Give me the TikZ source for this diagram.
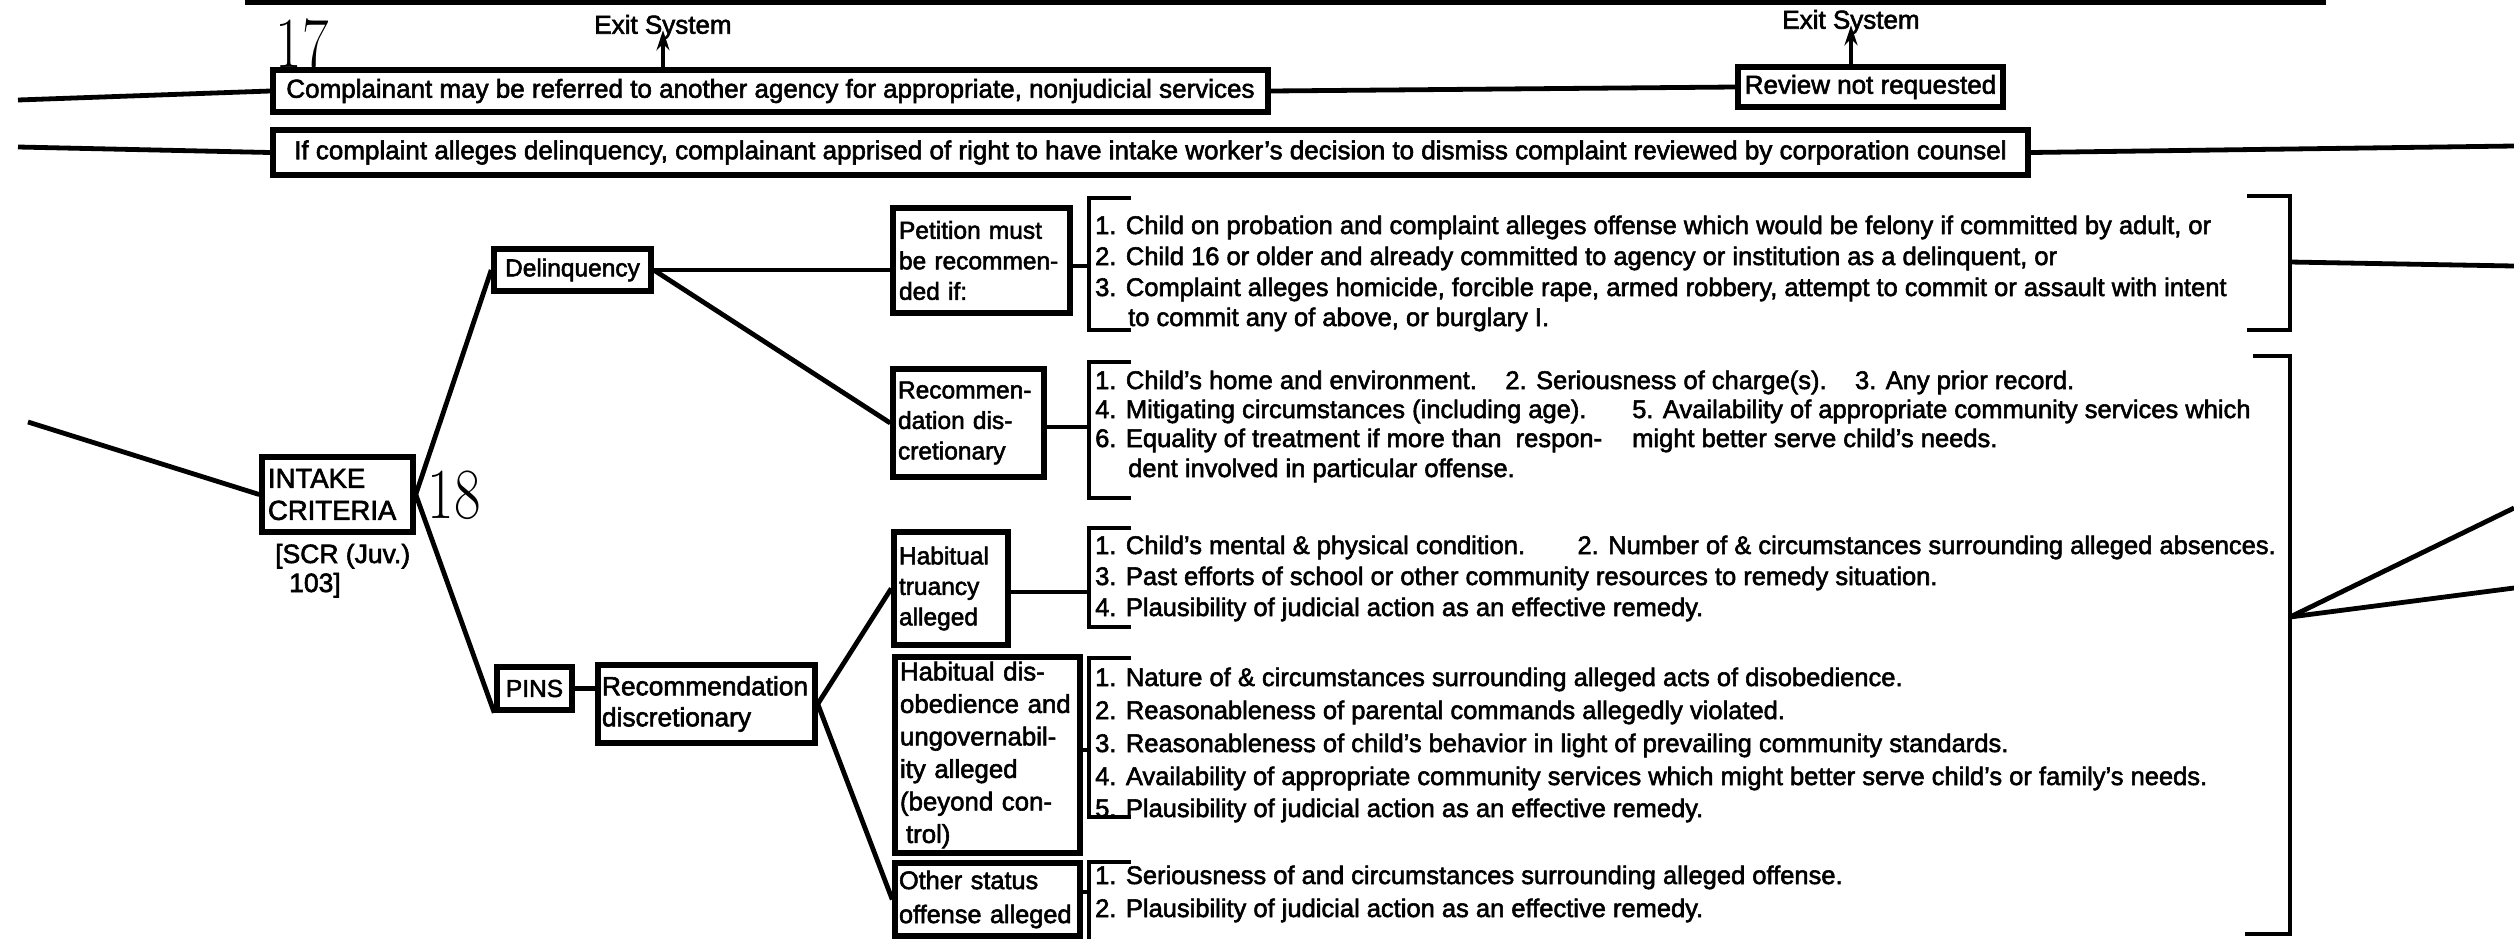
\documentclass[tikz,border=0pt]{standalone}
\usepackage{fontspec}
\setsansfont{Liberation Sans}[FakeBold=2.2]
\usetikzlibrary{arrows.meta,calc}

\newcommand{\topfont}{\sffamily\fontsize{26}{31}\selectfont}
\newcommand{\boxfont}{\sffamily\fontsize{24.5}{30.5}\selectfont}
\newcommand{\listfont}{\sffamily\fontsize{25.5}{30}\selectfont}
\newcommand{\numfont}{\rmfamily\fontsize{72}{72}\selectfont}

\begin{document}
\begin{tikzpicture}[x=1pt,y=-1pt,
  crit/.style={draw, line width=5.5pt, inner sep=0pt, font=\boxfont, align=left},
  toprow/.style={crit, font=\topfont},
  wire/.style={line width=4.8pt},
  brk/.style={line width=4.8pt},
  item/.style={anchor=base west, inner sep=0pt, font=\listfont},
  exitlbl/.style={inner sep=0pt, font=\topfont},
  tag/.style={inner sep=0pt, font=\numfont},
  up/.style={line width=4.5pt, -{Stealth[length=20pt,width=13pt]}}
]
\useasboundingbox (0,0) rectangle (2514,938);

% rule across the top of the page
\draw[line width=6pt] (245,2) -- (2326,2);

% section numbers
\node[tag] (n17) at (302,44) {\scalebox{0.8}[1]{17}};
\node[tag] (n18) at (454,495) {\scalebox{0.8}[1]{18}};

% ---- upper rows: referral and review ----
\node[toprow, minimum width=995pt, minimum height=42pt] (A) at (770.5,91)
  {Complainant may be referred to another agency for appropriate, nonjudicial services};
\node[toprow, minimum width=265pt, minimum height=40pt] (R) at (1870.5,87) {Review not requested};
\node[toprow, minimum width=1755pt, minimum height=45pt] (B) at (1150.5,152.5)
  {If complaint alleges delinquency, complainant apprised of right to have intake worker’s decision to dismiss complaint reviewed by corporation counsel};

\node[exitlbl] (ex1) at (663,27) {Exit System};
\node[exitlbl] (ex2) at (1851,22) {Exit System};

\coordinate (inA) at (18,100);
\coordinate (inB) at (18,147);
\coordinate (outB) at (2514,146);

\draw[wire] (inA) -- (A.west);
\draw[wire] (A.east) -- (R.west);
\draw[wire] (inB) -- (B.west);
\draw[wire] (B.east) -- (outB);
\draw[up] (A.north -| ex1) -- ([yshift=9pt]ex1.south);
\draw[up] (R.north -| ex2) -- ([yshift=9pt]ex2.south);

% ---- intake criteria ----
\node[crit, minimum width=151pt, minimum height=75pt, text width=139pt,
      font=\sffamily\fontsize{27.5}{32}\selectfont] (I) at (337.5,494.5)
  {INTAKE\\CRITERIA};
\node[anchor=base west, inner sep=0pt, font=\sffamily\fontsize{26.5}{30}\selectfont] (scr) at (275,563) {[SCR (Juv.)};
\node[anchor=base west, inner sep=0pt, font=\sffamily\fontsize{26.5}{30}\selectfont] (scrb) at (289,592) {103]};
\coordinate (inI) at (28,422);
\draw[wire] (inI) -- (I.west);

% ---- delinquency branch ----
\node[crit, minimum width=157pt, minimum height=42pt] (D) at (572.5,270) {Delinquency};
\node[crit, minimum width=177pt, minimum height=105pt, text width=165pt] (P) at (981.5,260.5)
  {Petition must\\be recommen-\\ded if:};
\node[crit, minimum width=151pt, minimum height=108pt, text width=141pt] (RD) at (968.5,423)
  {Recommen-\\dation dis-\\cretionary};

\draw[wire] (I.east) -- (D.west);
\draw[wire] (D.east) -- (D.east -| P.west);
\draw[wire] (D.east) -- (RD.west);

\coordinate (b1) at (1089,266);
\coordinate (b2) at (1089,427);
\draw[wire] (b1 -| P.east) -- (b1);
\draw[wire] (b2 -| RD.east) -- (b2);

% bracket: petition criteria
\draw[brk] (1131,198) -- (1089,198) -- (1089,330) -- (1131,330);
\draw[brk] (2247,196) -- (2290,196) -- (2290,330) -- (2247,330);
\coordinate (j1) at (2290,262);
\coordinate (out1) at (2514,266);
\draw[wire] (j1) -- (out1);

\node[item] (p1) at (1095,234) {1. Child on probation and complaint alleges offense which would be felony if committed by adult, or};
\node[item] (p2) at (1095,265) {2. Child 16 or older and already committed to agency or institution as a delinquent, or};
\node[item] (p3) at (1095,296) {3. Complaint alleges homicide, forcible rape, armed robbery, attempt to commit or assault with intent};
\node[item] (p4) at (1128,326) {to commit any of above, or burglary I.};

% bracket: discretionary delinquency factors
\draw[brk] (1131,362) -- (1089,362) -- (1089,498) -- (1131,498);
\node[item] (d1a) at (1095,389) {1. Child’s home and environment.};
\node[item] (d1b) at ([xshift=28pt]d1a.base east) {2. Seriousness of charge(s).};
\node[item] (d1c) at ([xshift=28pt]d1b.base east) {3. Any prior record.};
\node[item] (d2a) at (1095,418) {4. Mitigating circumstances (including age).};
\node[item] (d2b) at (1632,418) {5. Availability of appropriate community services which};
\node[item] (d3a) at (1095,447) {6. Equality of treatment if more than\ \ respon-};
\node[item] (d3b) at (1632,447) {might better serve child’s needs.};
\node[item] (d4a) at (1128,477) {dent involved in particular offense.};

% ---- PINS branch ----
\node[crit, minimum width=75pt, minimum height=43pt] (PN) at (534.5,688.5) {PINS};
\node[crit, minimum width=217pt, minimum height=78pt, text width=209pt,
      font=\sffamily\fontsize{26.3}{31}\selectfont] (RP) at (706.5,704)
  {Recommendation\\discretionary};
\node[crit, minimum width=114pt, minimum height=113pt, text width=104pt] (HT) at (951,588.5)
  {Habitual\\truancy\\alleged};
\node[crit, minimum width=185pt, minimum height=196pt, text width=175pt,
      font=\sffamily\fontsize{25.8}{32.5}\selectfont] (HD) at (987.5,755)
  {Habitual dis-\\obedience and\\ungovernabil-\\ity alleged\\(beyond con-\\\hspace*{6pt}trol)};
\node[crit, minimum width=185pt, minimum height=73pt, text width=177pt,
      font=\sffamily\fontsize{25.3}{34}\selectfont] (OS) at (987.5,899.5)
  {Other status\\offense alleged};

\draw[wire] (I.east) -- (PN.south west);
\draw[wire] (PN.east) -- (PN.east -| RP.west);
\draw[wire] (RP.east) -- (HT.west);
\draw[wire] (RP.east) -- (OS.west);

\coordinate (b3) at (1089,592);
\coordinate (b4) at (1089,750);
\coordinate (b5) at (1089,892);
\draw[wire] (b3 -| HT.east) -- (b3);
\draw[wire] (b4 -| HD.east) -- (b4);
\draw[wire] (b5 -| OS.east) -- (b5);

% bracket: truancy factors
\draw[brk] (1131,528) -- (1089,528) -- (1089,627) -- (1131,627);
\node[item] (t1a) at (1095,554) {1. Child’s mental \& physical condition.};
\node[item, anchor=base east] (t1b) at (2276,554) {2. Number of \& circumstances surrounding alleged absences.};
\node[item] (t2) at (1095,585) {3. Past efforts of school or other community resources to remedy situation.};
\node[item] (t3) at (1095,616) {4. Plausibility of judicial action as an effective remedy.};

% bracket: disobedience factors
\draw[brk] (1131,658) -- (1089,658) -- (1089,817) -- (1131,817);
\node[item] (h1) at (1095,686) {1. Nature of \& circumstances surrounding alleged acts of disobedience.};
\node[item] (h2) at (1095,719) {2. Reasonableness of parental commands allegedly violated.};
\node[item] (h3) at (1095,752) {3. Reasonableness of child’s behavior in light of prevailing community standards.};
\node[item] (h4) at (1095,785) {4. Availability of appropriate community services which might better serve child’s or family’s needs.};
\node[item] (h5) at (1095,817) {5. Plausibility of judicial action as an effective remedy.};

% bracket: other status offense factors
\draw[brk] (1131,862) -- (1089,862) -- (1089,940);
\node[item] (o1) at (1095,884) {1. Seriousness of and circumstances surrounding alleged offense.};
\node[item] (o2) at (1095,917) {2. Plausibility of judicial action as an effective remedy.};

% closing bracket gathering the discretionary factors
\draw[brk] (2253,356) -- (2290,356) -- (2290,934) -- (2245,934);
\coordinate (j2) at (2290,617);
\coordinate (out2) at (2514,508);
\coordinate (out3) at (2514,588);
\draw[wire] (j2) -- (out2);
\draw[wire] (j2) -- (out3);
\end{tikzpicture}
\end{document}
